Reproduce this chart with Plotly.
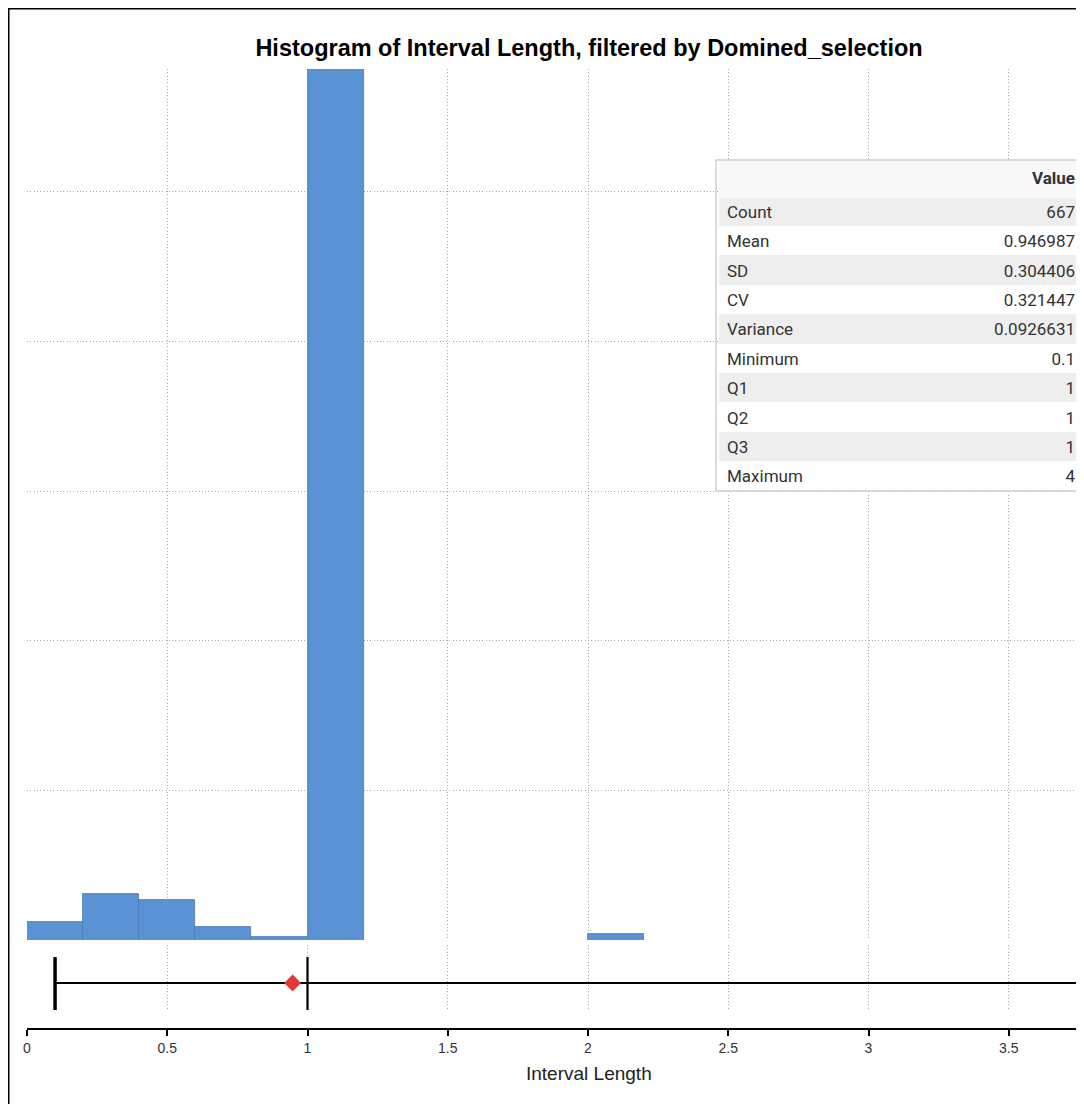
# Histogram of Interval Length with summary box plot and stats table
import plotly.graph_objects as go

# histogram bins (left edges, width 0.2) and counts
bin_left = [0.0, 0.2, 0.4, 0.6, 0.8, 1.0, 2.0, 4.0]
bin_count = [12, 31, 27, 9, 2, 582, 4, 1]
bin_width = 0.2

# summary stats
stat_names = ["Count", "Mean", "SD", "CV", "Variance", "Minimum", "Q1", "Q2", "Q3", "Maximum"]
stat_values = ["667", "0.946987", "0.304406", "0.321447", "0.0926631", "0.1", "1", "1", "1", "4"]
v_min, v_q1, v_med, v_q3, v_max, v_mean = 0.1, 1, 1, 1, 4, 0.946987

# the page body has an 8px margin, so work in page pixels and shift
OFF = 8
W, H = 1084 - OFF, 1104 - OFF
ml, mr, mt, mb = 27 - OFF, 0, 69 - OFF, 1104 - 1029
pw, ph = W - ml - mr, H - mt - mb
x_per_px = 1 / 280.5  # 0.5 units = 140 px

def yfrac(py):  # page pixel -> paper fraction
    return (H - mb - (py - OFF)) / ph

def xfrac(px):
    return (px - OFF - ml) / pw

blue = "#5b92d5"
fig = go.Figure()

# 1. histogram bars
fig.add_trace(go.Bar(
    x=[b + bin_width / 2 for b in bin_left], y=bin_count, width=bin_width,
    marker=dict(color=blue, line=dict(color="#4a78b0", width=0.8)),
    xaxis="x", yaxis="y", showlegend=False, hoverinfo="x+y"))

# 2. box summary: whisker line, min/max caps, median, mean
box = dict(xaxis="x2", yaxis="y2", showlegend=False, mode="lines")
fig.add_trace(go.Scatter(x=[v_min, v_max], y=[0, 0], line=dict(color="black", width=2), **box))
fig.add_trace(go.Scatter(x=[v_min, v_min], y=[-1, 0.96], line=dict(color="black", width=3.5), **box))
fig.add_trace(go.Scatter(x=[v_max, v_max], y=[-1, 0.96], line=dict(color="black", width=3.5), **box))
fig.add_trace(go.Scatter(x=[v_q1, v_q3, v_q3, v_q1, v_q1], y=[-1, -1, 0.96, 0.96, -1],
                         line=dict(color="black", width=1.5), **box))
fig.add_trace(go.Scatter(x=[v_med, v_med], y=[-1, 0.96], line=dict(color="black", width=2), **box))
fig.add_trace(go.Scatter(x=[v_mean], y=[0], mode="markers",
                         marker=dict(symbol="diamond", size=13, color="#e53935"),
                         xaxis="x2", yaxis="y2", showlegend=False))

# 3. stats table
n_rows = len(stat_names)
fills = ["#eeeeee" if i % 2 == 0 else "white" for i in range(n_rows)]
tbl_top, tbl_bot, tbl_left = 160, 491, 716
fig.add_trace(go.Table(
    domain=dict(x=[xfrac(tbl_left + 3), 1.0], y=[yfrac(tbl_bot), yfrac(tbl_top)]),
    columnwidth=[1.1, 1],
    header=dict(values=["", "<b>Value</b>"], align=["left", "right"], height=37,
                fill_color="#f8f8f8", line_color="#f8f8f8",
                font=dict(family="Roboto", size=17, color="#333")),
    cells=dict(values=[stat_names, stat_values], align=["left", "right"], height=29.4,
               fill_color=[fills, fills], line_color=[fills, fills],
               font=dict(family="Roboto", size=17, color="#333"))))

grid = dict(showgrid=True, gridcolor="#a9a9a9", griddash="1px,2.3px", gridwidth=1)
xrange = [0, pw * x_per_px]

fig.update_layout(
    width=W, height=H, margin=dict(l=ml, r=mr, t=mt, b=mb),
    plot_bgcolor="white", paper_bgcolor="white", bargap=0,
    font=dict(family="Liberation Sans, Arial", color="#333"),
    title=dict(text="<b>Histogram of Interval Length, filtered by Domined_selection</b>",
               x=(589 - OFF) / W, xanchor="center", y=1 - (48 - OFF) / H, yanchor="middle",
               font=dict(size=23.5, color="black")),
    xaxis=dict(range=xrange, dtick=0.5, tick0=0, anchor="y", showticklabels=False,
               ticks="", showline=False, zeroline=False, **grid),
    xaxis2=dict(range=xrange, dtick=0.5, tick0=0, anchor="free", position=0, matches="x",
                showline=True, linecolor="black", linewidth=1.5,
                ticks="outside", ticklen=6, tickcolor="black", tickwidth=1.5,
                tickfont=dict(size=14, color="#333"), zeroline=False, **grid),
    yaxis=dict(domain=[yfrac(940), 1.0], range=[0, 582], dtick=100, showticklabels=False,
               zeroline=False, **grid),
    yaxis2=dict(domain=[yfrac(1010), yfrac(945)], range=[-1, 1.41], showgrid=False,
                showticklabels=False, zeroline=False),
    # axis title as annotation: the real plot area runs past the right edge
    annotations=[dict(text="Interval Length", xref="paper", yref="paper",
                      x=xfrac(589), y=yfrac(1073), xanchor="center", yanchor="middle",
                      showarrow=False, font=dict(size=19, color="#222"))],
    shapes=[
        # table border
        dict(type="rect", xref="paper", yref="paper", x0=xfrac(tbl_left), x1=1.01,
             y0=yfrac(tbl_bot), y1=yfrac(tbl_top), line=dict(color="#cfcfcf", width=1.5)),
        # screenshot frame
        dict(type="line", xref="paper", yref="paper", x0=xfrac(8.5), x1=xfrac(8.5),
             y0=yfrac(8.5), y1=yfrac(1110), line=dict(color="black", width=2)),
        dict(type="line", xref="paper", yref="paper", x0=xfrac(8), x1=1.01,
             y0=yfrac(8.5), y1=yfrac(8.5), line=dict(color="black", width=2)),
    ],
)

fig.write_html("out.html")
